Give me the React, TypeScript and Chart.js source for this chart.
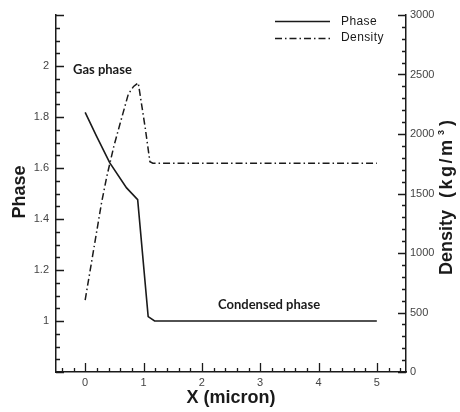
import React, { useEffect, useRef } from "react";
import { Chart, registerables } from "chart.js";

Chart.register(...registerables);

// ---- data ----
const PHASE_X = [0, 0.19, 0.42, 0.71, 0.9, 1.08, 1.19, 5];
const PHASE_Y = [1.818, 1.727, 1.621, 1.522, 1.476, 1.017, 1.0, 1.0];

const DENSITY_X = [0, 0.28, 0.37, 0.49, 0.6, 0.74, 0.83, 0.91, 1.03, 1.11, 1.16, 5];
const DENSITY_Y = [605, 1420, 1641, 1893, 2090, 2335, 2400, 2430, 2050, 1767, 1755, 1755];

const X_TICKS = [-0.5, 0, 1, 2, 3, 4, 5, 5.5];
const X_LABELS = ["", "0", "1", "2", "3", "4", "5", ""];
const PHASE_TICKS = [0.8, 1, 1.2, 1.4, 1.6, 1.8, 2, 2.2];
const PHASE_LABELS = ["", "1", "1.2", "1.4", "1.6", "1.8", "2", ""];
const DENSITY_TICKS = [0, 500, 1000, 1500, 2000, 2500, 3000];
const DENSITY_LABELS = ["0", "500", "1000", "1500", "2000", "2500", "3000"];

const SERIES_NAMES = ["Phase", "Density"];
const ANNOTATIONS = ["Gas phase", "Condensed phase"];
const X_TITLE = "X (micron)";
const Y_TITLE = "Phase";
const Y2_TITLE = ["Density", "(kg/m", "3", ")"];

const INK = "#1a1a1a";
const DASH = [7, 3, 1.5, 3];

function stepValues(min: number, max: number, step: number) {
  const out: number[] = [];
  const start = Math.ceil(min / step - 1e-9);
  const end = Math.floor(max / step + 1e-9);
  for (let i = start; i <= end; i++) out.push(i * step);
  return out;
}

const decorPlugin = {
  id: "decor",
  afterDraw(chart: any) {
    const { ctx, chartArea, scales } = chart;
    const { left, right, top, bottom } = chartArea;
    ctx.save();
    // inward ticks
    ctx.strokeStyle = INK;
    ctx.lineWidth = 1.3;
    const x = scales.x;
    const y = scales.y;
    const y2 = scales.y2;
    ctx.beginPath();
    stepValues(x.min, x.max, 0.2).forEach((v) => {
      const px = Math.round(x.getPixelForValue(v)) + 0.5;
      const major = Math.abs(v - Math.round(v)) < 1e-6;
      ctx.moveTo(px, bottom);
      ctx.lineTo(px, bottom - (major ? 9 : 4));
    });
    stepValues(y.min, y.max, 0.05).forEach((v) => {
      const py = Math.round(y.getPixelForValue(v)) + 0.5;
      const major = Math.abs(v / 0.2 - Math.round(v / 0.2)) < 1e-6;
      ctx.moveTo(left, py);
      ctx.lineTo(left + (major ? 8 : 4), py);
    });
    stepValues(y2.min, y2.max, 100).forEach((v) => {
      const py = Math.round(y2.getPixelForValue(v)) + 0.5;
      const major = v % 500 === 0;
      ctx.moveTo(right, py);
      ctx.lineTo(right - (major ? 8 : 4), py);
    });
    ctx.stroke();

    // annotations
    ctx.fillStyle = INK;
    ctx.font = "bold 13px Lato";
    ctx.textBaseline = "middle";
    ctx.textAlign = "left";
    ctx.fillText(ANNOTATIONS[0], 73, 70);
    ctx.fillText(ANNOTATIONS[1], 218, 305);

    // legend
    ctx.font = "12px 'Liberation Sans'";
    ctx.fillStyle = INK;
    ctx.lineWidth = 1.5;
    ctx.beginPath();
    ctx.moveTo(275, 21.5);
    ctx.lineTo(330, 21.5);
    ctx.stroke();
    ctx.setLineDash(DASH);
    ctx.beginPath();
    ctx.moveTo(275, 38.5);
    ctx.lineTo(330, 38.5);
    ctx.stroke();
    ctx.setLineDash([]);
    (ctx as any).letterSpacing = "0.4px";
    ctx.fillText(SERIES_NAMES[0], 341, 22);
    ctx.fillText(SERIES_NAMES[1], 341, 38);
    (ctx as any).letterSpacing = "0px";

    // axis titles
    ctx.font = "bold 18px 'Liberation Sans'";
    ctx.textAlign = "center";
    ctx.fillText(X_TITLE, (left + right) / 2, 398);

    ctx.save();
    ctx.translate(20, 192);
    ctx.rotate(-Math.PI / 2);
    ctx.fillText(Y_TITLE, 0, 0);
    ctx.restore();

    ctx.save();
    ctx.translate(447, 275);
    ctx.rotate(-Math.PI / 2);
    ctx.textAlign = "left";
    ctx.font = "bold 18px 'Liberation Sans'";
    ctx.fillText(Y2_TITLE[0], 0, 0);
    (ctx as any).letterSpacing = "2.5px";
    ctx.fillText(Y2_TITLE[1], 77, 0);
    (ctx as any).letterSpacing = "0px";
    ctx.font = "bold 9px 'Liberation Sans'";
    ctx.fillText(Y2_TITLE[2], 140, -5);
    ctx.font = "bold 18px 'Liberation Sans'";
    ctx.fillText(Y2_TITLE[3], 149, 0);
    ctx.restore();

    ctx.restore();
  },
};

export default function App() {
  const ref = useRef<HTMLCanvasElement | null>(null);

  useEffect(() => {
    if (!ref.current) return;
    const tickFont = { family: "'Liberation Sans'", size: 11 };
    const tickColor = "#444";
    const chart = new Chart(ref.current, {
      type: "scatter",
      data: {
        datasets: [
          {
            label: SERIES_NAMES[0],
            data: PHASE_X.map((v, i) => ({ x: v, y: PHASE_Y[i] })),
            showLine: true,
            borderColor: INK,
            borderWidth: 1.6,
            pointRadius: 0,
            yAxisID: "y",
          },
          {
            label: SERIES_NAMES[1],
            data: DENSITY_X.map((v, i) => ({ x: v, y: DENSITY_Y[i] })),
            showLine: true,
            borderColor: INK,
            borderWidth: 1.5,
            borderDash: DASH,
            pointRadius: 0,
            yAxisID: "y2",
          },
        ],
      },
      options: {
        responsive: false,
        animation: false,
        devicePixelRatio: 1,
        layout: { padding: { top: 15, left: 0, right: 0, bottom: 0 } },
        plugins: { legend: { display: false }, tooltip: { enabled: false } },
        scales: {
          x: {
            type: "linear",
            min: -0.5,
            max: 5.5,
            afterBuildTicks: (s: any) => {
              s.ticks = X_TICKS.map((v) => ({ value: v }));
            },
            afterFit: (s: any) => {
              s.height = 40;
            },
            ticks: {
              font: tickFont,
              color: tickColor,
              padding: 4,
              maxRotation: 0,
              autoSkip: false,
              callback: (v: any) => X_LABELS[X_TICKS.findIndex((t) => Math.abs(t - v) < 1e-6)] ?? "",
            },
            grid: { display: false, drawTicks: false },
            border: { display: true, color: INK, width: 1.5 },
          },
          y: {
            type: "linear",
            position: "left",
            min: 0.8,
            max: 2.2,
            afterBuildTicks: (s: any) => {
              s.ticks = PHASE_TICKS.map((v) => ({ value: v }));
            },
            afterFit: (s: any) => {
              s.width = 56;
            },
            ticks: {
              font: tickFont,
              color: tickColor,
              padding: 7,
              autoSkip: false,
              callback: (v: any) => PHASE_LABELS[PHASE_TICKS.findIndex((t) => Math.abs(t - v) < 1e-6)] ?? "",
            },
            grid: { display: false, drawTicks: false },
            border: { display: true, color: INK, width: 1.5 },
          },
          y2: {
            type: "linear",
            position: "right",
            min: 0,
            max: 3000,
            afterBuildTicks: (s: any) => {
              s.ticks = DENSITY_TICKS.map((v) => ({ value: v }));
            },
            afterFit: (s: any) => {
              s.width = 54;
            },
            ticks: {
              font: tickFont,
              color: tickColor,
              padding: 4,
              autoSkip: false,
              callback: (v: any) => DENSITY_LABELS[DENSITY_TICKS.indexOf(v)] ?? "",
            },
            grid: { display: false, drawTicks: false },
            border: { display: true, color: INK, width: 1.5 },
          },
        },
      },
      plugins: [decorPlugin],
    });
    return () => chart.destroy();
  }, []);

  return (
    <div style={{ position: "absolute", left: 0, top: 0, width: 460, height: 412, background: "#fff" }}>
      <canvas ref={ref} width={460} height={412} />
    </div>
  );
}
